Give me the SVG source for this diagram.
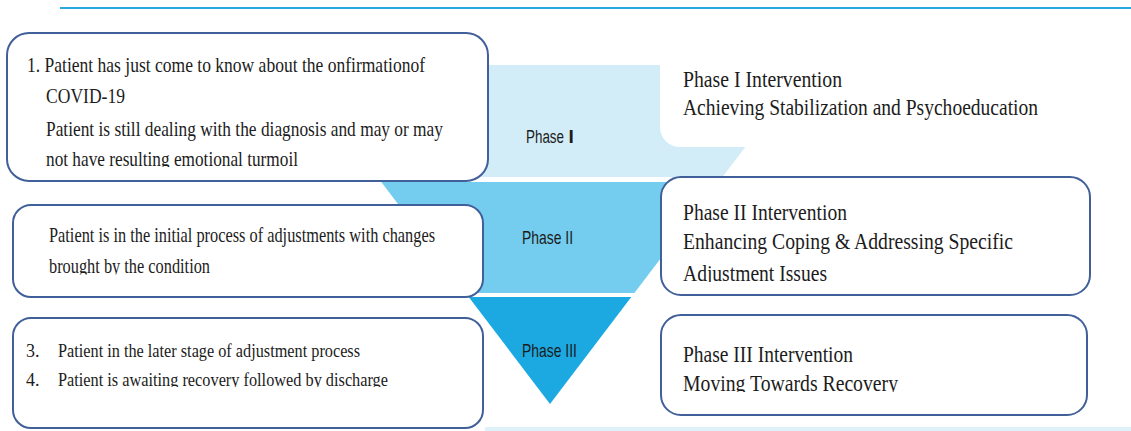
<svg xmlns="http://www.w3.org/2000/svg" width="1131" height="431" viewBox="0 0 1131 431">
  <style>
    .box { fill: #ffffff; stroke: #41609a; stroke-width: 2; }
    .t { font-family: "Liberation Serif", "Times New Roman", serif; fill: #1c1c1c; }
    .tl { font-size: 21px; }
    .ts { font-size: 18px; }
    .tr { font-size: 24px; }
    .ph { font-family: "Liberation Sans", Arial, sans-serif; font-size: 19px; fill: #1c1c1c; }
  </style>
  <defs>
    <clipPath id="c1"><rect x="0" y="140" width="500" height="27"/></clipPath>
    <clipPath id="c2"><rect x="0" y="250" width="500" height="24.5"/></clipPath>
    <clipPath id="c3"><rect x="0" y="365" width="500" height="22"/></clipPath>
    <clipPath id="c4"><rect x="660" y="255" width="440" height="27"/></clipPath>
    <clipPath id="c5"><rect x="660" y="368" width="440" height="24"/></clipPath>
  </defs>
  <rect x="0" y="0" width="1131" height="431" fill="#ffffff"/>
  <line x1="60" y1="8" x2="1131" y2="8" stroke="#27a9e1" stroke-width="2.2"/>
  <rect x="485" y="427" width="646" height="4" fill="#dff1f9"/>

  <g id="funnel">
    <polygon points="292.4,65 807.6,65 722.5,177 377.5,177" fill="#d3edf8"/>
    <polygon points="381.3,182 718.7,182 634.4,293 465.6,293" fill="#74cdee"/>
    <polygon points="468.7,297 631.3,297 550,404" fill="#1ca9e1"/>
    <rect x="660" y="30" width="480" height="117" rx="20" fill="#ffffff"/>
  </g>

  <g id="phase-labels">
    <text class="ph" transform="translate(526,143) scale(0.72,1)" textLength="52.8" lengthAdjust="spacingAndGlyphs">Phase</text>
    <text class="ph" x="568.5" y="143" font-weight="bold">I</text>
    <text class="ph" transform="translate(522,244) scale(0.73,1)" textLength="69.9" lengthAdjust="spacingAndGlyphs">Phase II</text>
    <text class="ph" transform="translate(522,357) scale(0.73,1)" textLength="75.3" lengthAdjust="spacingAndGlyphs">Phase III</text>
  </g>

  <g id="node-left-1">
    <rect class="box" x="7" y="33" width="481" height="148" rx="22"/>
    <text class="t tl" transform="translate(27,72) scale(0.8,1)" textLength="497.5" lengthAdjust="spacingAndGlyphs">1. Patient has just come to know about the onfirmationof</text>
    <text class="t tl" x="46" y="103" textLength="79" lengthAdjust="spacingAndGlyphs">COVID-19</text>
    <text class="t tl" transform="translate(46,136) scale(0.8,1)" textLength="496.25" lengthAdjust="spacingAndGlyphs">Patient is still dealing with the diagnosis and may or may</text>
    <g clip-path="url(#c1)">
      <text class="t tl" transform="translate(46,165.5) scale(0.8,1)" textLength="315" lengthAdjust="spacingAndGlyphs">not have resulting emotional turmoil</text>
    </g>
  </g>

  <g id="node-left-2">
    <rect class="box" x="13" y="205" width="470" height="92" rx="18"/>
    <text class="t tl" transform="translate(49,241.5) scale(0.78,1)" textLength="494.9" lengthAdjust="spacingAndGlyphs">Patient is in the initial process of adjustments with changes</text>
    <g clip-path="url(#c2)">
      <text class="t tl" transform="translate(49,273) scale(0.8,1)" textLength="201.25" lengthAdjust="spacingAndGlyphs">brought by the condition</text>
    </g>
  </g>

  <g id="node-left-3">
    <rect class="box" x="13" y="318" width="470" height="110" rx="18"/>
    <text class="t ts" x="26" y="356.5">3.</text>
    <text class="t ts" x="58" y="356.5" textLength="302" lengthAdjust="spacingAndGlyphs">Patient in the later stage of adjustment process</text>
    <text class="t ts" x="26" y="385.5">4.</text>
    <g clip-path="url(#c3)">
      <text class="t ts" x="58" y="385.5" textLength="330" lengthAdjust="spacingAndGlyphs">Patient is awaiting recovery followed by discharge</text>
    </g>
  </g>

  <g id="node-right-1">
    <text class="t tr" x="683" y="86.5" textLength="159" lengthAdjust="spacingAndGlyphs">Phase I Intervention</text>
    <text class="t tr" x="683" y="115" textLength="355" lengthAdjust="spacingAndGlyphs">Achieving Stabilization and Psychoeducation</text>
  </g>

  <g id="node-right-2">
    <rect class="box" x="661" y="177" width="429" height="118" rx="20"/>
    <text class="t tr" x="683" y="220" textLength="164" lengthAdjust="spacingAndGlyphs">Phase II Intervention</text>
    <text class="t tr" x="683" y="249" textLength="330" lengthAdjust="spacingAndGlyphs">Enhancing Coping &amp; Addressing Specific</text>
    <g clip-path="url(#c4)">
      <text class="t tr" x="683" y="281" textLength="144" lengthAdjust="spacingAndGlyphs">Adjustment Issues</text>
    </g>
  </g>

  <g id="node-right-3">
    <rect class="box" x="661" y="315" width="426" height="100" rx="20"/>
    <text class="t tr" x="683" y="362" textLength="170" lengthAdjust="spacingAndGlyphs">Phase III Intervention</text>
    <g clip-path="url(#c5)">
      <text class="t tr" x="683" y="391" textLength="215" lengthAdjust="spacingAndGlyphs">Moving Towards Recovery</text>
    </g>
  </g>

  <g id="connectors"/>
</svg>
